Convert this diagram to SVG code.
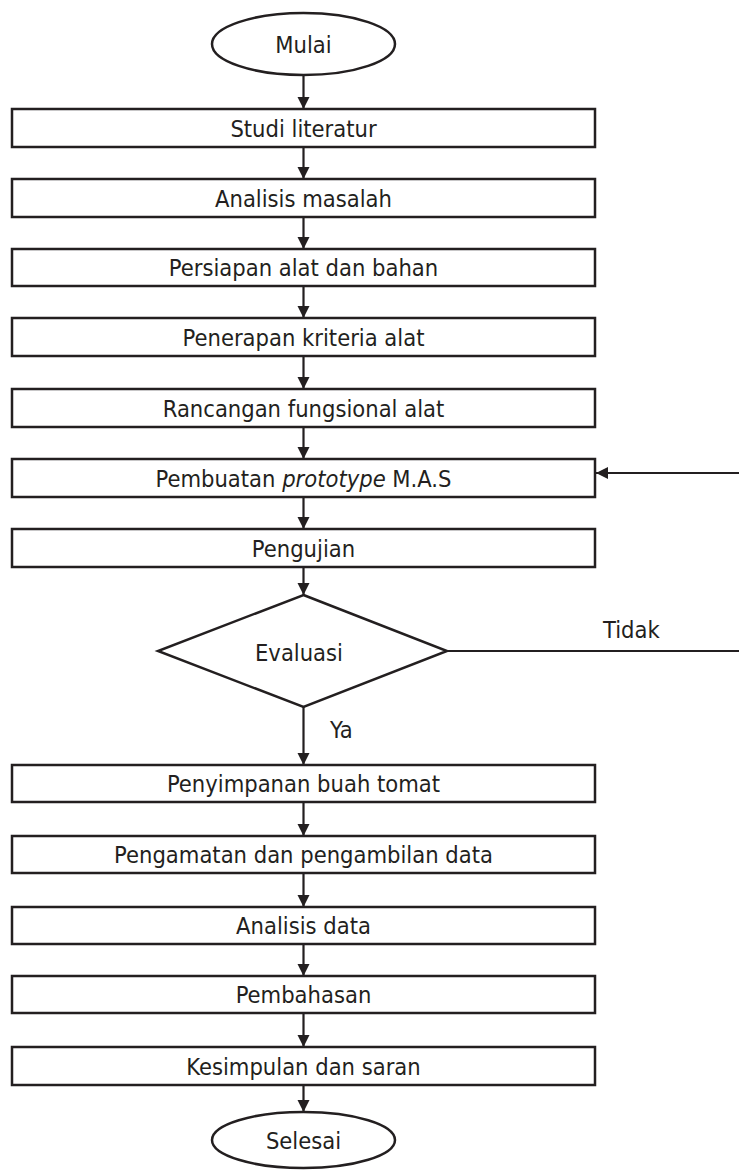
<svg xmlns="http://www.w3.org/2000/svg" width="739" height="1170" viewBox="0 0 739 1170">
<style>
.box{fill:#fff;stroke:#231f20;stroke-width:2.5}
.t{font-family:"DejaVu Sans Condensed","DejaVu Sans","Liberation Sans",sans-serif;font-stretch:condensed;font-size:23.5px;fill:#231f20;text-anchor:middle}
.tl{font-family:"DejaVu Sans Condensed","DejaVu Sans","Liberation Sans",sans-serif;font-stretch:condensed;font-size:23.5px;fill:#231f20}
.c{stroke:#231f20;stroke-width:2.2;fill:none}
</style>
<defs>
<marker id="ah" markerUnits="userSpaceOnUse" markerWidth="13" markerHeight="13" refX="12" refY="6.5" orient="auto">
<path d="M0,0.5 L12,6.5 L0,12.5 z" fill="#231f20"/>
</marker>
</defs>
<g id="connectors">
<line class="c" x1="303.5" y1="75" x2="303.5" y2="109" marker-end="url(#ah)"/>
<line class="c" x1="303.5" y1="147" x2="303.5" y2="179" marker-end="url(#ah)"/>
<line class="c" x1="303.5" y1="217" x2="303.5" y2="249" marker-end="url(#ah)"/>
<line class="c" x1="303.5" y1="286" x2="303.5" y2="318" marker-end="url(#ah)"/>
<line class="c" x1="303.5" y1="356" x2="303.5" y2="389" marker-end="url(#ah)"/>
<line class="c" x1="303.5" y1="427" x2="303.5" y2="459" marker-end="url(#ah)"/>
<line class="c" x1="303.5" y1="497" x2="303.5" y2="529" marker-end="url(#ah)"/>
<line class="c" x1="303.5" y1="567" x2="303.5" y2="595" marker-end="url(#ah)"/>
<line class="c" x1="303.5" y1="707" x2="303.5" y2="765" marker-end="url(#ah)"/>
<line class="c" x1="303.5" y1="802" x2="303.5" y2="836" marker-end="url(#ah)"/>
<line class="c" x1="303.5" y1="873" x2="303.5" y2="907" marker-end="url(#ah)"/>
<line class="c" x1="303.5" y1="944" x2="303.5" y2="976" marker-end="url(#ah)"/>
<line class="c" x1="303.5" y1="1013" x2="303.5" y2="1047" marker-end="url(#ah)"/>
<line class="c" x1="303.5" y1="1085" x2="303.5" y2="1112" marker-end="url(#ah)"/>
<line class="c" x1="447" y1="651" x2="739" y2="651"/>
<line class="c" x1="739" y1="473" x2="596" y2="473" marker-end="url(#ah)"/>
<text class="tl" x="603" y="638">Tidak</text>
<text class="tl" x="330" y="738">Ya</text>
</g>
<g id="mulai"><ellipse class="box" cx="303.5" cy="44" rx="91.5" ry="31"/><text class="t" x="303.5" y="52.5">Mulai</text></g>
<g id="n1"><rect class="box" x="12" y="109" width="583" height="38"/><text class="t" x="303.5" y="136.5">Studi literatur</text></g>
<g id="n2"><rect class="box" x="12" y="179" width="583" height="38"/><text class="t" x="303.5" y="206.5">Analisis masalah</text></g>
<g id="n3"><rect class="box" x="12" y="249" width="583" height="37"/><text class="t" x="303.5" y="276">Persiapan alat dan bahan</text></g>
<g id="n4"><rect class="box" x="12" y="318" width="583" height="38"/><text class="t" x="303.5" y="345.5">Penerapan kriteria alat</text></g>
<g id="n5"><rect class="box" x="12" y="389" width="583" height="38"/><text class="t" x="303.5" y="416.5">Rancangan fungsional alat</text></g>
<g id="n6"><rect class="box" x="12" y="459" width="583" height="38"/><text class="t" x="303.5" y="486.5">Pembuatan <tspan font-style="italic">prototype</tspan> M.A.S</text></g>
<g id="n7"><rect class="box" x="12" y="529" width="583" height="38"/><text class="t" x="303.5" y="556.5">Pengujian</text></g>
<g id="evaluasi"><polygon class="box" points="303.5,595 447,651 303.5,707 158,651"/><text class="t" x="299" y="661">Evaluasi</text></g>
<g id="n8"><rect class="box" x="12" y="765" width="583" height="37"/><text class="t" x="303.5" y="792">Penyimpanan buah tomat</text></g>
<g id="n9"><rect class="box" x="12" y="836" width="583" height="37"/><text class="t" x="303.5" y="863">Pengamatan dan pengambilan data</text></g>
<g id="n10"><rect class="box" x="12" y="907" width="583" height="37"/><text class="t" x="303.5" y="934">Analisis data</text></g>
<g id="n11"><rect class="box" x="12" y="976" width="583" height="37"/><text class="t" x="303.5" y="1003">Pembahasan</text></g>
<g id="n12"><rect class="box" x="12" y="1047" width="583" height="38"/><text class="t" x="303.5" y="1074.5">Kesimpulan dan saran</text></g>
<g id="selesai"><ellipse class="box" cx="303.5" cy="1140" rx="91.5" ry="28"/><text class="t" x="303.5" y="1148.5">Selesai</text></g>
</svg>
